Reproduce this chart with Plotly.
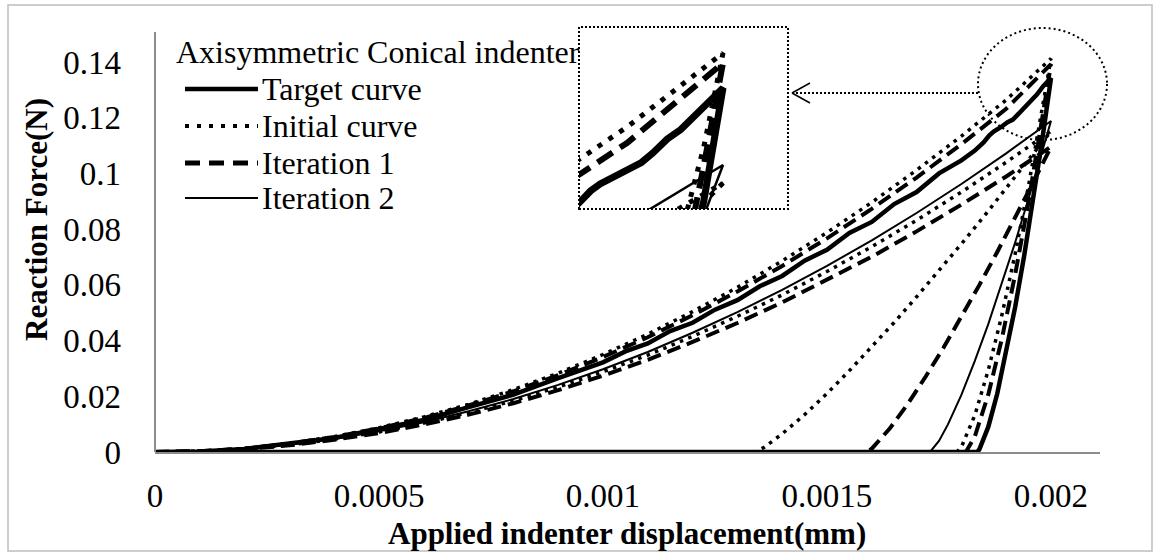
import plotly.graph_objects as go

# ---- data ----
x_load = [0, 0.0001, 0.0002, 0.0003, 0.0004, 0.0005, 0.0006, 0.0007, 0.0008, 0.0009, 0.001,
          0.0011, 0.0012, 0.0013, 0.0014, 0.0015, 0.0016, 0.0017, 0.0018, 0.0019, 0.002]

# upper bundle
initial_load = [0, 0.0003, 0.0013, 0.0031, 0.0055, 0.0087, 0.0126, 0.0171, 0.0224, 0.0283, 0.0350,
                0.0423, 0.0504, 0.0591, 0.0686, 0.0788, 0.0896, 0.1012, 0.1134, 0.1264, 0.1412]
iter1_load = [0, 0.0003, 0.0012, 0.0030, 0.0054, 0.0085, 0.0122, 0.0167, 0.0218, 0.0276, 0.0341,
              0.0412, 0.0491, 0.0576, 0.0668, 0.0767, 0.0873, 0.0985, 0.1105, 0.1232, 0.1392]

# lower bundle
iter2b_load = [0, 0.0002, 0.0011, 0.0026, 0.0047, 0.0074, 0.0107, 0.0146, 0.0190, 0.0241, 0.0297,
               0.0359, 0.0428, 0.0502, 0.0582, 0.0668, 0.0760, 0.0858, 0.0962, 0.1072, 0.1188]
initialb_load = [0, 0.0002, 0.0010, 0.0025, 0.0046, 0.0072, 0.0104, 0.0141, 0.0184, 0.0233, 0.0288,
                 0.0348, 0.0415, 0.0487, 0.0564, 0.0648, 0.0737, 0.0832, 0.0933, 0.1040, 0.1152]
iter1b_load = [0, 0.0002, 0.0010, 0.0024, 0.0044, 0.0068, 0.0099, 0.0134, 0.0175, 0.0222, 0.0274,
               0.0331, 0.0395, 0.0463, 0.0537, 0.0617, 0.0701, 0.0792, 0.0888, 0.0989, 0.1096]

# target curve (wavy FE data)
target_x = [0, 0.0001, 0.0002, 0.0003, 0.0004, 0.0005, 0.0006, 0.0007, 0.0008, 0.0009, 0.001,
            0.00105, 0.0011, 0.00115, 0.0012, 0.00125, 0.0013, 0.00135, 0.0014, 0.00145, 0.0015,
            0.00155, 0.0016, 0.00165, 0.0017, 0.00175, 0.0018, 0.00183, 0.00185, 0.001862,
            0.001872, 0.001888, 0.001903, 0.001915, 0.001927, 0.001942, 0.001956, 0.001969,
            0.001983, 0.002,
            0.00198, 0.00196, 0.00194, 0.00192, 0.0019, 0.00188, 0.00186, 0.00184, 0.001835, 0]
target_y = [0, 0.0002, 0.0011, 0.0029, 0.0050, 0.0083, 0.0115, 0.0161, 0.0206, 0.0265, 0.0322,
            0.0361, 0.0390, 0.0434, 0.0464, 0.0511, 0.0545, 0.0595, 0.0632, 0.0687, 0.0726,
            0.0786, 0.0826, 0.0890, 0.0933, 0.1000, 0.1047, 0.1082, 0.1112, 0.1136,
            0.1150, 0.1166, 0.1184, 0.1193, 0.1212, 0.1240, 0.1259, 0.1284,
            0.1314, 0.1342,
            0.1116, 0.0902, 0.0703, 0.0520, 0.0354, 0.0209, 0.0090, 0.0009, 0, 0]

# unloading branches
initial_unx = [0.00198, 0.00195, 0.00192, 0.00189, 0.00186, 0.00183, 0.0018, 0.00179]
initial_uny = [0.1224, 0.0957, 0.0711, 0.0489, 0.0294, 0.0132, 0.0018, 0]
iter1_unx = [0.00198, 0.00195, 0.00192, 0.00189, 0.00186, 0.00183, 0.00181]
iter1_uny = [0.1187, 0.0899, 0.0637, 0.0404, 0.0206, 0.0056, 0]
iter2b_unx = [0.00198, 0.00195, 0.00192, 0.00189, 0.00186, 0.00183, 0.0018, 0.00177, 0.00175, 0.00173]
iter2b_uny = [0.1075, 0.0910, 0.0752, 0.0602, 0.0459, 0.0327, 0.0205, 0.0099, 0.0040, 0]
initialb_unx = [0.00195, 0.0019, 0.00185, 0.0018, 0.00175, 0.0017, 0.00165, 0.0016, 0.00155,
                0.0015, 0.00145, 0.0014, 0.00136, 0.00134]
initialb_uny = [0.1048, 0.0946, 0.0845, 0.0747, 0.0651, 0.0557, 0.0465, 0.0377, 0.0292,
                0.0210, 0.0134, 0.0065, 0.0017, 0]
iter1b_unx = [0.00196, 0.00192, 0.00188, 0.00184, 0.0018, 0.00176, 0.00172, 0.00168, 0.00164,
              0.0016, 0.00159]
iter1b_uny = [0.0967, 0.0841, 0.0718, 0.0599, 0.0485, 0.0374, 0.0270, 0.0172, 0.0084, 0.0012, 0]

x_ticks = [0, 0.0005, 0.001, 0.0015, 0.002]
x_ticktext = ["0", "0.0005", "0.001", "0.0015", "0.002"]
y_ticks = [0, 0.02, 0.04, 0.06, 0.08, 0.1, 0.12, 0.14]
y_ticktext = ["0", "0.02", "0.04", "0.06", "0.08", "0.1", "0.12", "0.14"]

legend_names = ["Target curve", "Initial curve", "Iteration 1", "Iteration 2"]

FONT = "Liberation Serif, Times New Roman, serif"
W, H = 1159, 553
ML, MR, MT, MB = 155, 59, 25, 101
PW, PH = W - ML - MR, H - MT - MB


def px(x):
    return (x - ML) / PW


def py(y):
    return (H - MB - y) / PH


styles = {
    "dot": dict(color="black", width=3.5, dash="3.5px,5.5px"),
    "dash": dict(color="black", width=4, dash="14px,7px"),
    "thick": dict(color="black", width=4.5),
    "thin": dict(color="black", width=2),
}
inset_styles = {
    "dot": dict(color="black", width=5, dash="5px,8px"),
    "dash": dict(color="black", width=6, dash="18px,9px"),
    "thick": dict(color="black", width=7),
    "thin": dict(color="black", width=2.5),
}

series = [
    (x_load + initialb_unx, initialb_load + initialb_uny, "dot"),
    (x_load + iter1b_unx, iter1b_load + iter1b_uny, "dash"),
    (x_load + iter2b_unx, iter2b_load + iter2b_uny, "thin"),
    (x_load + initial_unx, initial_load + initial_uny, "dot"),
    (x_load + iter1_unx, iter1_load + iter1_uny, "dash"),
    (target_x, target_y, "thick"),
]

fig = go.Figure()
for xs, ys, st in series:
    fig.add_trace(go.Scatter(x=xs, y=ys, mode="lines", line=styles[st],
                             showlegend=False, hoverinfo="skip"))
for xs, ys, st in series:
    fig.add_trace(go.Scatter(x=xs, y=ys, mode="lines", line=inset_styles[st],
                             xaxis="x2", yaxis="y2", showlegend=False, hoverinfo="skip"))

y_top = 0.14 * PH / (H - MB - 62)

fig.update_layout(
    width=W, height=H,
    margin=dict(l=ML, r=MR, t=MT, b=MB),
    paper_bgcolor="white", plot_bgcolor="white",
    font=dict(family=FONT, color="black", size=32),
    xaxis=dict(range=[0, 0.0021094], tickvals=x_ticks, ticktext=x_ticktext,
               showgrid=False, zeroline=False, showline=True, linecolor="#8c8c8c", linewidth=2,
               ticks="", ticklabelstandoff=13, tickfont=dict(size=33, family=FONT)),
    yaxis=dict(range=[0, y_top], tickvals=y_ticks, ticktext=y_ticktext,
               showgrid=False, zeroline=False, showline=False,
               ticks="", ticklabelstandoff=33, tickfont=dict(size=33, family=FONT)),
    xaxis2=dict(domain=[px(579), px(788)], range=[0.00185, 0.0020677], anchor="y2",
                visible=False),
    yaxis2=dict(domain=[py(209), py(27)], range=[0.1100, 0.1464], anchor="x2",
                visible=False),
)

shapes = [
    # y axis line
    dict(type="line", xref="paper", yref="paper", x0=0, x1=0, y0=0, y1=py(32),
         line=dict(color="#8c8c8c", width=2)),
    # chart outer border
    dict(type="rect", xref="paper", yref="paper", x0=px(8), x1=px(1152), y0=py(551), y1=py(5),
         line=dict(color="#bdbdbd", width=1.5)),
    # inset frame
    dict(type="rect", xref="paper", yref="paper", x0=px(579), x1=px(788), y0=py(209), y1=py(27),
         line=dict(color="black", width=2, dash="2px,2px")),
    # magnifier ellipse
    dict(type="circle", xref="paper", yref="paper", x0=px(978), x1=px(1107), y0=py(140), y1=py(28),
         line=dict(color="black", width=2, dash="2px,3px")),
    # arrow
    dict(type="line", xref="paper", yref="paper", x0=px(978), x1=px(793), y0=py(93), y1=py(93),
         line=dict(color="black", width=2, dash="2px,2px")),
    dict(type="line", xref="paper", yref="paper", x0=px(792), x1=px(810), y0=py(93), y1=py(83),
         line=dict(color="black", width=1.5)),
    dict(type="line", xref="paper", yref="paper", x0=px(792), x1=px(810), y0=py(93), y1=py(103),
         line=dict(color="black", width=1.5)),
]

# custom legend
legend_y = [89, 126, 163, 198]
legend_styles = [
    dict(color="black", width=4.5),
    dict(color="black", width=4, dash="4px,8px"),
    dict(color="black", width=5, dash="15px,9px"),
    dict(color="black", width=2),
]
for yy, ls in zip(legend_y, legend_styles):
    shapes.append(dict(type="line", xref="paper", yref="paper", x0=px(185), x1=px(258),
                       y0=py(yy), y1=py(yy), line=ls))
fig.update_layout(shapes=shapes)

annotations = [
    dict(text="Axisymmetric Conical indenter", x=px(174), y=py(52), xanchor="left",
         yanchor="middle", font=dict(size=32)),
    dict(text="<b>Reaction Force(N)</b>", x=px(37), y=py(220), textangle=-90,
         xanchor="center", yanchor="middle", font=dict(size=31)),
    dict(text="<b>Applied indenter displacement(mm)</b>", x=px(627), y=py(533),
         xanchor="center", yanchor="middle", font=dict(size=31)),
]
for yy, name in zip(legend_y, legend_names):
    annotations.append(dict(text=name, x=px(260), y=py(yy), xanchor="left", yanchor="middle",
                            font=dict(size=32)))
for a in annotations:
    a.update(xref="paper", yref="paper", showarrow=False)
fig.update_layout(annotations=annotations)

fig.write_html("out.html", config={"displayModeBar": False},
               post_script="document.body.style.margin='0';")
